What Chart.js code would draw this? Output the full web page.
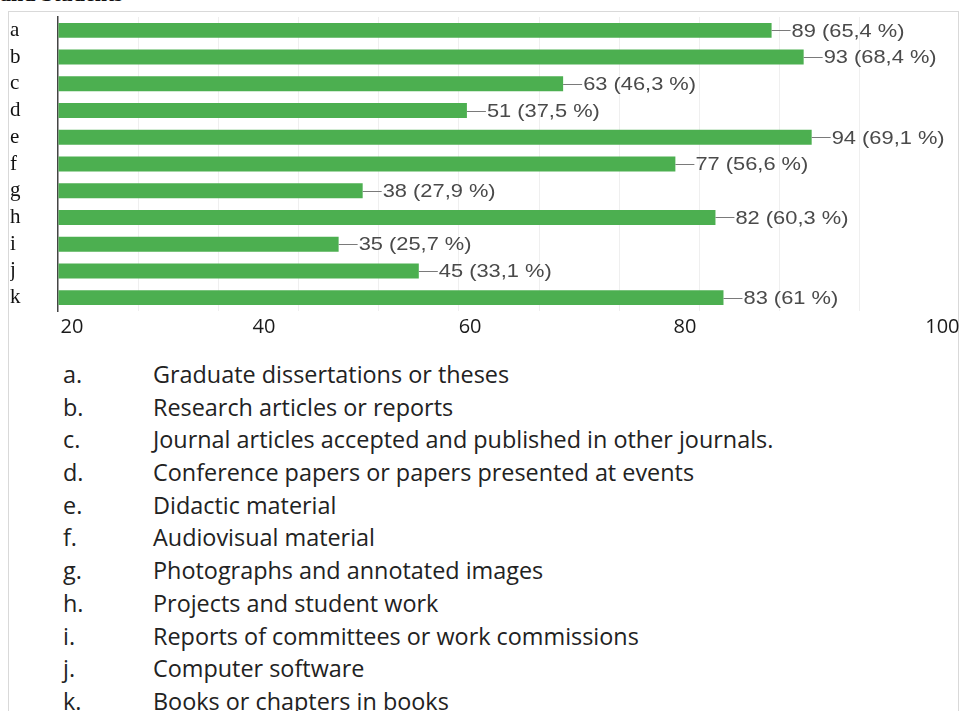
<!DOCTYPE html>
<html>
<head>
<meta charset="utf-8">
<script src="https://cdn.jsdelivr.net/npm/chart.js@4.4.1/dist/chart.umd.min.js"></script>
<style>
  html, body { margin: 0; padding: 0; background: #fff; }
  body { width: 961px; height: 711px; position: relative; overflow: hidden; }
  #frame { position: absolute; left: 8px; top: 11px; width: 951px; height: 720px; border: 1.5px solid #d9d9d9; box-sizing: border-box; }
  #cut { position: absolute; left: 0; top: -17px; font: bold 22px "Liberation Serif", serif; line-height: 22px; color: #111; white-space: nowrap; }
  #chart { position: absolute; left: 0; top: 0; }
  #list { position: absolute; left: 0; top: 358px; font: 23.4px "Open Sans", sans-serif; color: #222; line-height: 32.7px; }
  #list .row { position: relative; height: 32.7px; white-space: nowrap; }
  #list .k { position: absolute; left: 63px; }
  #list .t { position: absolute; left: 153px; }
</style>
</head>
<body>
<div id="frame"></div>
<div id="cut">and Students</div>
<canvas id="chart" width="961" height="345"></canvas>
<div id="list"></div>
<script>
// ---- data ----
const categories = ['a','b','c','d','e','f','g','h','i','j','k'];
const counts = [89, 93, 63, 51, 94, 77, 38, 82, 35, 45, 83];
const percents = ['65,4','68,4','46,3','37,5','69,1','56,6','27,9','60,3','25,7','33,1','61'];
const descriptions = [
  'Graduate dissertations or theses',
  'Research articles or reports',
  'Journal articles accepted and published in other journals.',
  'Conference papers or papers presented at events',
  'Didactic material',
  'Audiovisual material',
  'Photographs and annotated images',
  'Projects and student work',
  'Reports of committees or work commissions',
  'Computer software',
  'Books or chapters in books'
];
const xTickLabels = ['20','40','60','80','100'];
// where the printed tick labels sit, in axis units
const xTickAt = [1.75, 25.7, 51.4, 78.2, 110.3];

// ---- legend list ----
const list = document.getElementById('list');
categories.forEach((c, i) => {
  const r = document.createElement('div');
  r.className = 'row';
  const k = document.createElement('span'); k.className = 'k'; k.textContent = c + '.';
  const t = document.createElement('span'); t.className = 't'; t.textContent = descriptions[i];
  r.appendChild(k); r.appendChild(t); list.appendChild(r);
});

// ---- value labels plugin ----
const valueLabels = {
  id: 'valueLabels',
  afterDatasetsDraw(chart) {
    const ctx = chart.ctx;
    const meta = chart.getDatasetMeta(0);
    ctx.save();
    meta.data.forEach((bar, i) => {
      const x = bar.x, y = bar.y;
      ctx.strokeStyle = '#7a7a7a';
      ctx.lineWidth = 1;
      ctx.beginPath();
      ctx.moveTo(x, Math.round(y) + 0.5);
      ctx.lineTo(x + 19, Math.round(y) + 0.5);
      ctx.stroke();
      ctx.save();
      ctx.translate(x + 20, y + 1);
      ctx.scale(1.15, 1);
      ctx.fillStyle = '#4a4a4a';
      ctx.font = '19px "Liberation Sans", Arial, sans-serif';
      ctx.textBaseline = 'middle';
      ctx.textAlign = 'left';
      ctx.fillText(counts[i] + ' (' + percents[i] + ' %)', 0, 0);
      ctx.restore();
    });
    ctx.restore();
  }
};

new Chart(document.getElementById('chart'), {
  type: 'bar',
  data: {
    labels: categories,
    datasets: [{
      data: counts,
      backgroundColor: '#4caf50',
      borderWidth: 0,
      categoryPercentage: 0.8,
      barPercentage: 0.7
    }]
  },
  options: {
    indexAxis: 'y',
    responsive: false,
    devicePixelRatio: 1,
    animation: false,
    layout: { padding: { top: 17, left: 10, right: 5, bottom: 4 } },
    plugins: { legend: { display: false }, tooltip: { enabled: false } },
    scales: {
      x: {
        type: 'linear', position: 'bottom', min: 0, max: 112,
        ticks: { display: false, stepSize: 10 },
        grid: {
          drawTicks: false,
          color: (c) => (c.tick && c.tick.value > 0 && c.tick.value <= 100) ? '#efefef' : 'rgba(0,0,0,0)',
          lineWidth: 1
        },
        border: { display: false },
        afterFit(s) { s.height = 0; }
      },
      x2: {
        type: 'linear', position: 'bottom', min: 0, max: 112,
        afterBuildTicks(s) { s.ticks = xTickAt.map(v => ({ value: v })); },
        ticks: {
          autoSkip: false, maxRotation: 0, padding: 4,
          color: '#1a1a1a',
          font: { family: '"Open Sans", sans-serif', size: 20 },
          callback: (v, i) => xTickLabels[i]
        },
        grid: { display: false, drawTicks: false },
        border: { display: false },
        afterFit(s) { s.height = 30; s.paddingLeft = 0; s.paddingRight = 0; }
      },
      y: {
        type: 'category',
        ticks: {
          autoSkip: false,
          crossAlign: 'far', padding: 0, color: '#111',
          font: { family: '"Liberation Serif", serif', size: 21 }
        },
        grid: { display: false },
        border: { display: true, color: '#444', width: 1.5 },
        afterFit(s) { s.width = 48; }
      }
    }
  },
  plugins: [valueLabels]
});
</script>
</body>
</html>
